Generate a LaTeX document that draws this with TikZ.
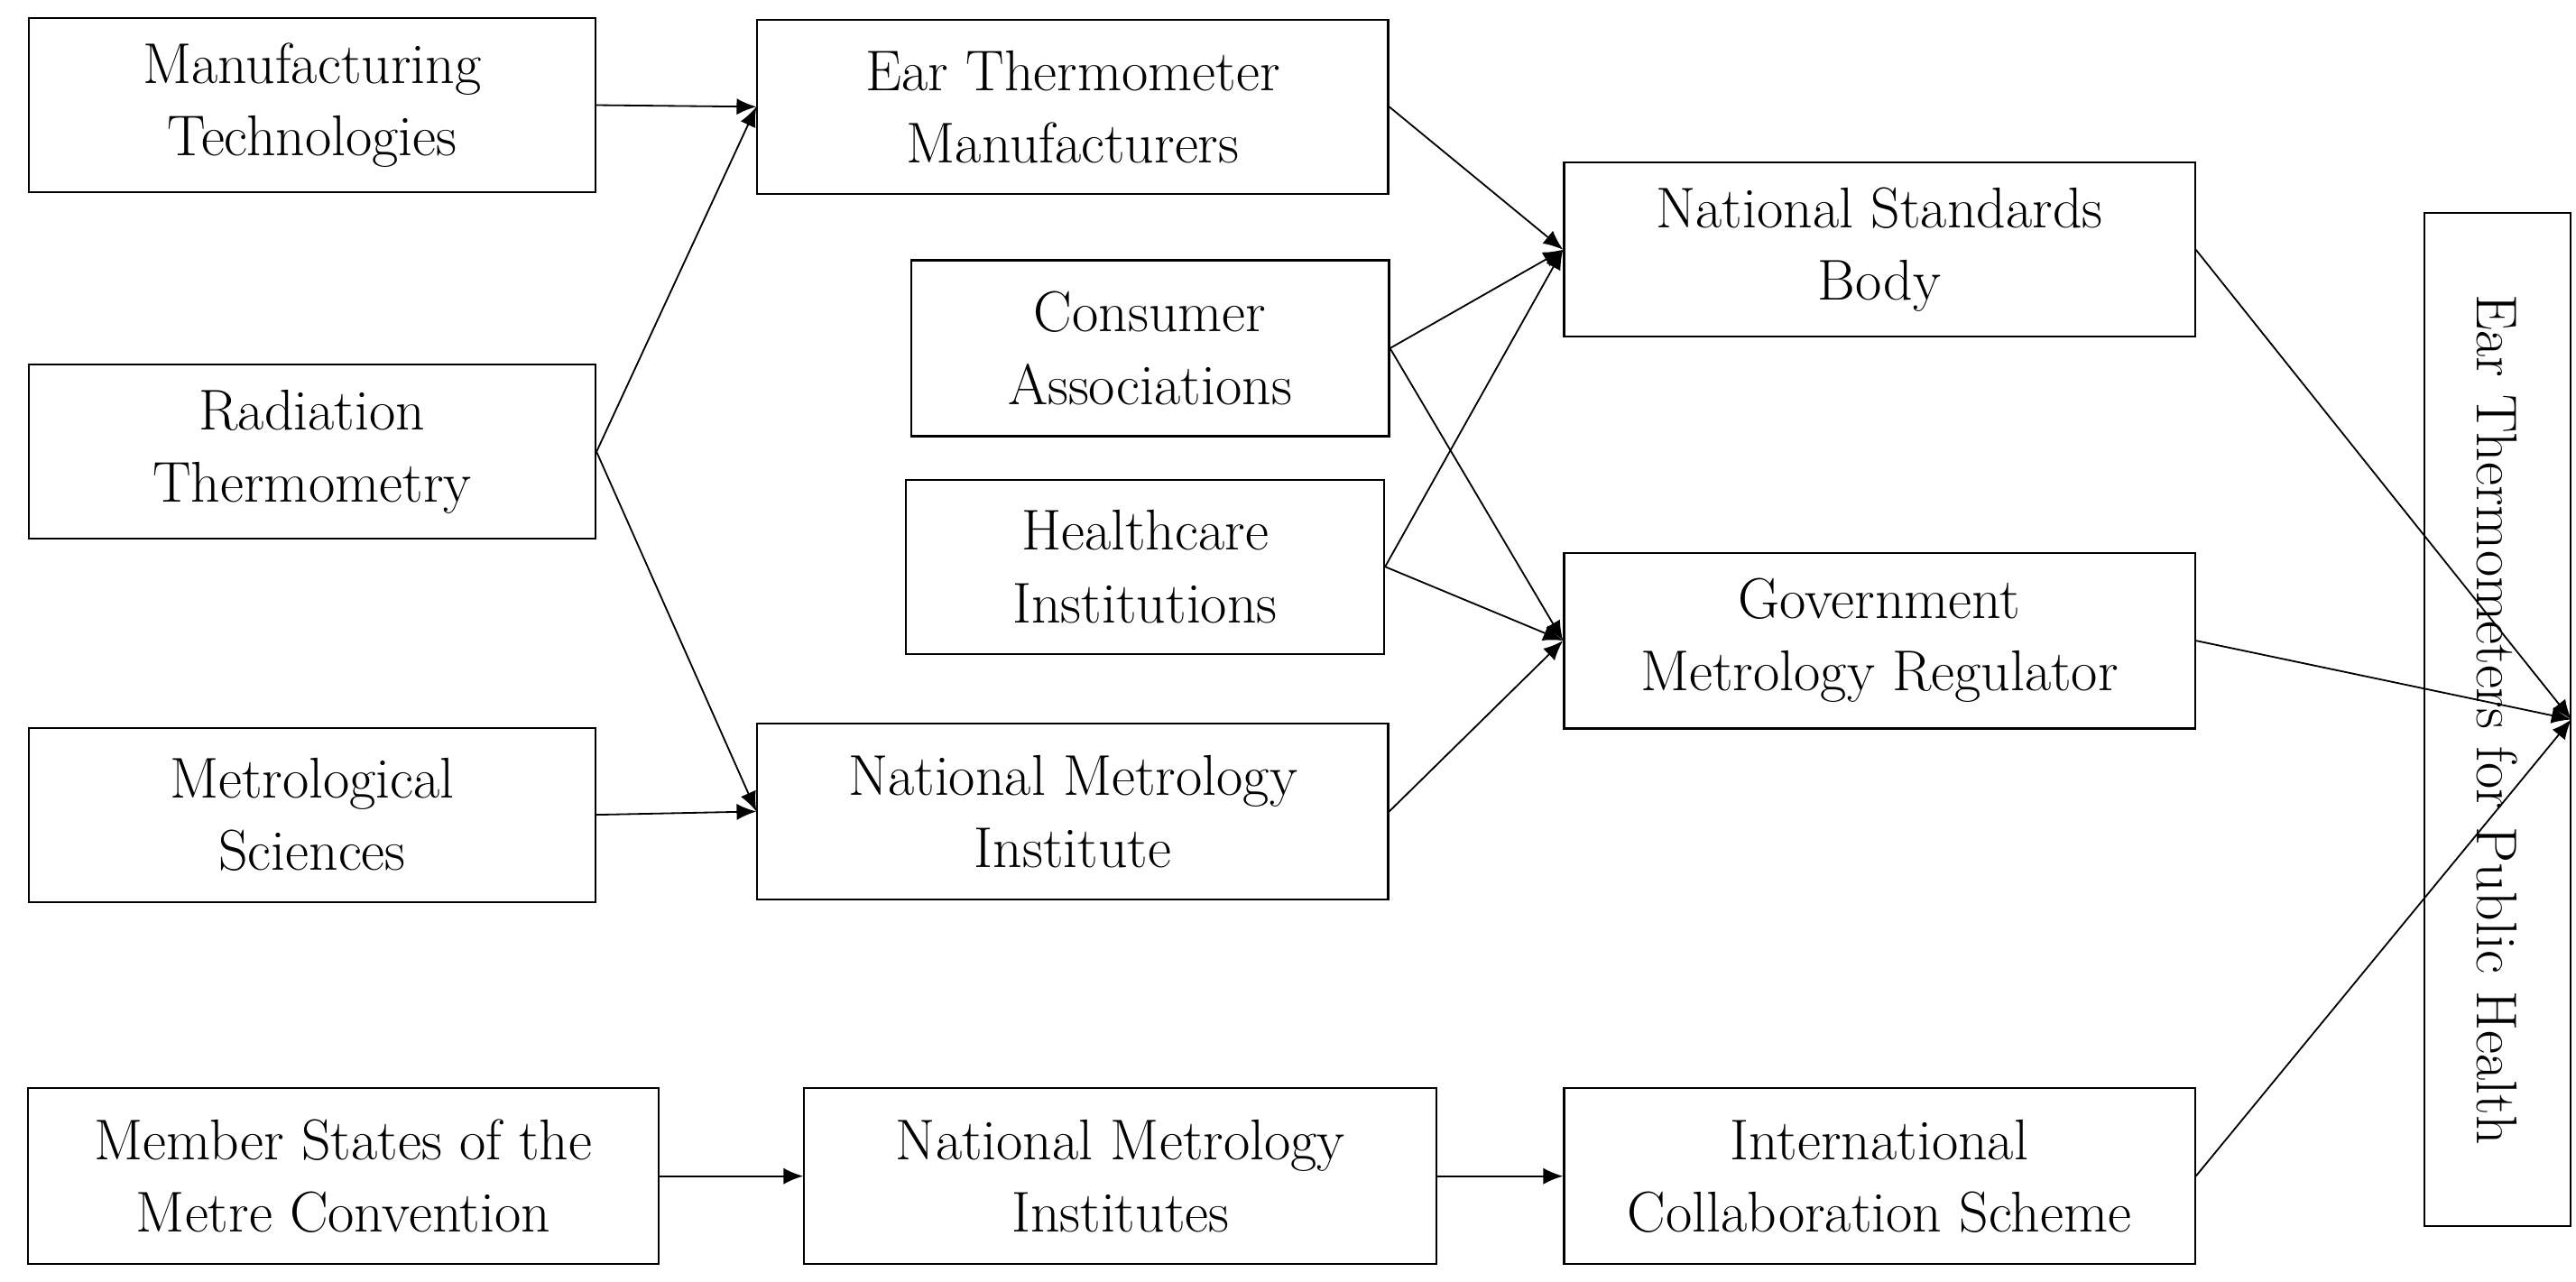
\documentclass[tikz,border=0pt]{standalone}
\usepackage{mathpazo}
\usetikzlibrary{arrows.meta}
\begin{document}
\begin{tikzpicture}[x=0.5pt,y=-0.5pt,
  box/.style={draw,line width=0.6pt,align=center,inner sep=0pt,font=\fontsize{17.5}{22}\selectfont},
  arr/.style={-{Latex[length=6pt,width=5pt]},line width=0.5pt}]
\useasboundingbox (0,0) rectangle (1568,780);
\node[box,minimum width=172.5pt,minimum height=53pt] (mt) at (190,64) {Manufacturing\\Technologies};
\node[box,minimum width=172.5pt,minimum height=53pt] (rt) at (190,275) {Radiation\\Thermometry};
\node[box,minimum width=172.5pt,minimum height=53pt] (ms) at (190,496) {Metrological\\Sciences};
\node[box,minimum width=192pt,minimum height=53.5pt] (msc) at (209,716) {Member States of the\\Metre Convention};
\node[box,minimum width=192pt,minimum height=53pt] (etm) at (653,65) {Ear Thermometer\\Manufacturers};
\node[box,minimum width=145.5pt,minimum height=53.5pt] (ca) at (700,212) {Consumer\\Associations};
\node[box,minimum width=145.5pt,minimum height=53pt] (hi) at (697,345) {Healthcare\\Institutions};
\node[box,minimum width=192pt,minimum height=53.5pt] (nmi) at (653,494) {National Metrology\\Institute};
\node[box,minimum width=192.5pt,minimum height=53.5pt] (nmis) at (682,716) {National Metrology\\Institutes};
\node[box,minimum width=192pt,minimum height=53pt] (nsb) at (1144,152) {National Standards\\Body};
\node[box,minimum width=192pt,minimum height=53.5pt] (gmr) at (1144,390) {Government\\Metrology Regulator};
\node[box,minimum width=192pt,minimum height=53.5pt] (ics) at (1144,716) {International\\Collaboration Scheme};
\node[box,minimum width=308.5pt,minimum height=44.5pt,rotate=-90] (eph) at (1520,438) {Ear Thermometers for Public Health};
\draw[arr] (mt.east) -- (etm.west);
\draw[arr] (rt.east) -- (etm.west);
\draw[arr] (rt.east) -- (nmi.west);
\draw[arr] (ms.east) -- (nmi.west);
\draw[arr] (etm.east) -- (nsb.west);
\draw[arr] (ca.east) -- (nsb.west);
\draw[arr] (ca.east) -- (gmr.west);
\draw[arr] (hi.east) -- (nsb.west);
\draw[arr] (hi.east) -- (gmr.west);
\draw[arr] (nmi.east) -- (gmr.west);
\draw[arr] (msc.east) -- (nmis.west);
\draw[arr] (nmis.east) -- (ics.west);
\draw[arr] (nsb.east) -- (eph.north);
\draw[arr] (gmr.east) -- (eph.north);
\draw[arr] (ics.east) -- (eph.north);
\end{tikzpicture}
\end{document}
